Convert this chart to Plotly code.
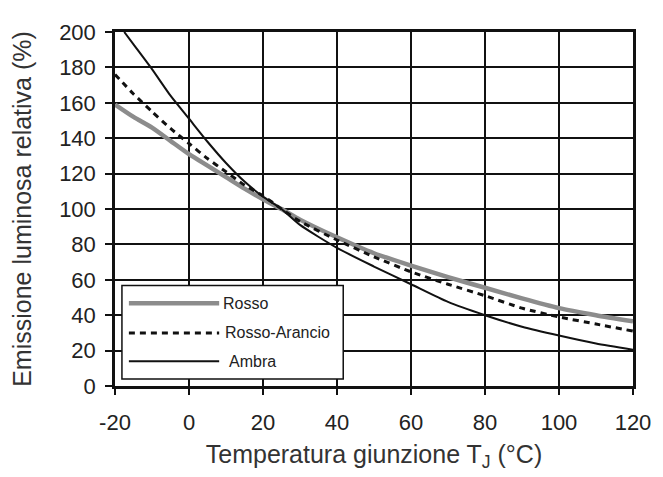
import plotly.graph_objects as go

# ---- data ----
temp = [-20, -15, -10, -5, 0, 5, 10, 15, 20, 25, 30, 40, 50, 60, 70, 80, 90, 100, 110, 120]
rosso = [159, 152, 146, 138.5, 131, 124.5, 118, 111.5, 105.5, 100, 94, 84, 75, 68, 61.5, 55.5, 49.5, 44, 40, 36.5]
rosso_arancio = [176, 165, 155, 145.5, 137, 128.5, 121, 113.5, 107.5, 100, 93, 82.5, 73, 64.5, 57.5, 51, 44, 39, 35, 31]
ambra_temp = [-17.5, -15, -10, -5, 0, 5, 10, 15, 20, 25, 30, 40, 50, 60, 70, 80, 90, 100, 110, 120]
ambra = [200, 193, 179, 164, 151, 138, 126, 115.5, 107, 100, 91, 78, 67.5, 57.5, 47.5, 40, 33.5, 28.5, 24, 20.5]

x_ticks = [-20, 0, 20, 40, 60, 80, 100, 120]
x_ticktext = ["-20", "0", "20", "40", "60", "80", "100", "120"]
y_ticks = [0, 20, 40, 60, 80, 100, 120, 140, 160, 180, 200]

series_names = ["Rosso", "Rosso-Arancio", "Ambra"]

FONT = "Liberation Sans, Arial, sans-serif"

fig = go.Figure()
styles = [
    dict(color="#8c8c8c", width=4.5),
    dict(color="#111111", width=3, dash="6px,5px"),
    dict(color="#111111", width=2),
]
data_x = [temp, temp, ambra_temp]
data_y = [rosso, rosso_arancio, ambra]
for name, xs, ys, st in zip(series_names, data_x, data_y, styles):
    fig.add_trace(go.Scatter(x=xs, y=ys, mode="lines", name=name,
                             line=dict(shape="spline", smoothing=0.6, **st),
                             showlegend=False))

# ---- hand-drawn legend box (as in the reference) ----
shapes = [dict(type="rect", xref="paper", yref="paper", x0=0.0134, x1=0.4406,
               y0=0.0195, y1=0.284, line=dict(color="#111111", width=1.5),
               fillcolor="white", layer="above")]
leg_y = [0.234, 0.150, 0.0696]
leg_text_x = [0.204, 0.208, 0.216]
annotations = []
for name, ly, tx, st in zip(series_names, leg_y, leg_text_x, styles):
    shapes.append(dict(type="line", xref="paper", yref="paper", x0=0.0268, x1=0.2011,
                       y0=ly, y1=ly, line=st, layer="above"))
    annotations.append(dict(xref="paper", yref="paper", x=tx, y=ly, text=name,
                            showarrow=False, xanchor="left", yanchor="middle",
                            font=dict(family=FONT, size=16, color="#222222")))

# page body adds an 8px offset, so the figure is sized/margined to compensate
fig.update_layout(
    width=655, height=469,
    margin=dict(l=107, r=26, t=20, b=90),
    paper_bgcolor="white", plot_bgcolor="white",
    shapes=shapes, annotations=annotations,
    font=dict(family=FONT, color="#222222"),
)
fig.update_xaxes(
    range=[-20, 120], tickvals=x_ticks, ticktext=x_ticktext,
    showgrid=True, gridcolor="#111111", gridwidth=1.5,
    showline=True, linecolor="#111111", linewidth=2.5, mirror=True,
    ticks="outside", ticklen=6, tickwidth=1.5, tickcolor="#111111",
    ticklabelstandoff=9,
    tickfont=dict(family=FONT, size=22, color="#222222"),
    zeroline=False,
    title=dict(text="Temperatura giunzione T<sub>J</sub> (°C)", standoff=12,
               font=dict(family=FONT, size=25, color="#333333")),
)
fig.update_yaxes(
    range=[0, 200], tickvals=y_ticks,
    showgrid=True, gridcolor="#111111", gridwidth=1.5,
    showline=True, linecolor="#111111", linewidth=2.5, mirror=True,
    ticks="outside", ticklen=7, tickwidth=1.5, tickcolor="#111111",
    ticklabelstandoff=5,
    tickfont=dict(family=FONT, size=22, color="#222222"),
    zeroline=False,
    title=dict(text="Emissione luminosa relativa (%)", standoff=22,
               font=dict(family=FONT, size=25, color="#333333")),
)

fig.write_html("out.html")
